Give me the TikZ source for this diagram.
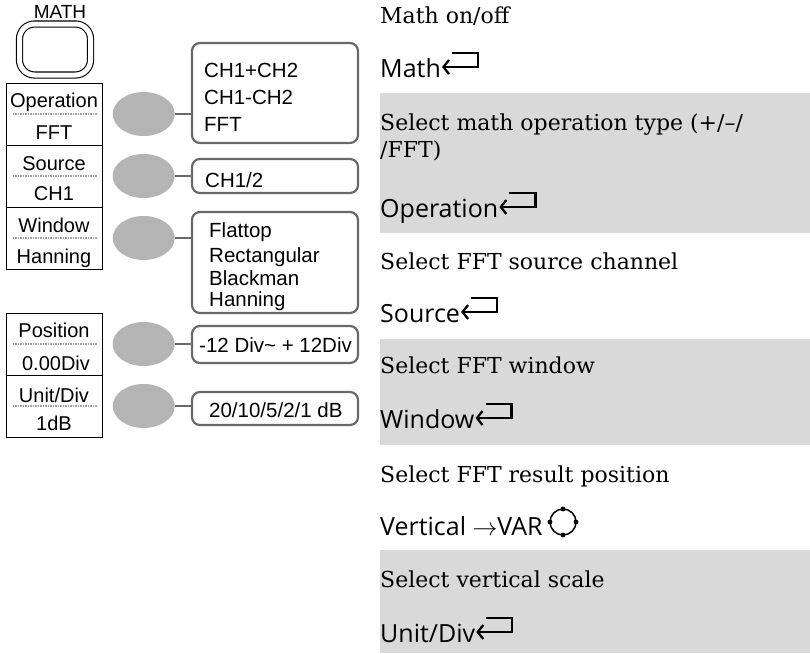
\documentclass[tikz,border=0pt]{standalone}
\usepackage{fontspec}
\setsansfont{Liberation Sans}
\newfontfamily\uifont{Open Sans}
\newfontfamily\descfont{DejaVu Serif}
\usepackage{xcolor}
\usepackage{tikz}
\usetikzlibrary{arrows.meta,positioning,shapes.geometric}
\definecolor{bandgray}{RGB}{217,217,217}
\definecolor{knobgray}{RGB}{180,180,180}
\definecolor{framegray}{RGB}{105,105,105}
\definecolor{dotgray}{RGB}{160,160,160}
\tikzset{
  mathkey/.style={draw=black, line width=1.1pt, double, double distance=5pt,
                  rounded corners=15pt, minimum width=71pt, minimum height=51pt, inner sep=0pt},
  softkey/.style={rectangle, draw=black, line width=1pt,
                  minimum width=96pt, minimum height=62pt, inner sep=0pt},
  keylabel/.style={font=\sffamily\fontsize{20}{23}\selectfont, anchor=base, inner sep=0pt},
  knob/.style={ellipse, fill=knobgray, minimum width=62pt, minimum height=44pt, inner sep=0pt},
  optbox/.style={rectangle, rounded corners=8pt, draw=framegray, line width=2.2pt,
                 fill=white, minimum width=166pt, inner sep=0pt},
  opttext/.style={font=\sffamily\fontsize{20.5}{23}\selectfont, anchor=base west, inner sep=0pt},
  link/.style={draw=framegray, line width=2.4pt},
  divider/.style={draw=dotgray, line width=1.6pt, dash pattern=on 1.5pt off 1pt},
  band/.style={fill=bandgray, draw=none},
  desc/.style={font=\descfont\fontsize{22}{26}\selectfont, anchor=base west, inner sep=0pt},
  act/.style={font=\uifont\fontsize{25}{29}\selectfont, anchor=base west, inner sep=0pt},
}
\newcommand{\retkey}{\tikz[baseline=0pt, x=1pt, y=1pt]{%
  \draw[line width=2.3pt, line join=miter,
        -{Straight Barb[length=5.5pt, width=14pt, line width=2.3pt]}]
    (10,24) -- (36,24) -- (36,10) -- (0,10);}}
\newcommand{\varknob}{\hspace{5pt}\tikz[baseline=0pt, x=1pt, y=1pt]{%
  \draw[line width=1.5pt] (0,13) circle (13pt);
  \foreach \a in {0,90,180,270} \fill[shift={(0,13)}] (\a:13) circle (2.4pt);}}

\begin{document}
\begin{tikzpicture}[x=1pt, y=-1pt]
  \useasboundingbox (0,0) rectangle (810,653);

  % description bands
  \fill[band] (380,93) rectangle (810,233);
  \fill[band] (380,339) rectangle (810,445);
  \fill[band] (380,550) rectangle (810,653);

  % front panel key
  \node[font=\sffamily\fontsize{19}{21}\selectfont, anchor=base] (mathlbl) at (60,18) {MATH};
  \node[mathkey] (mathbtn) at (55,49.5) {};

  % soft menu keys
  \node[softkey] (opkey) at (54,114) {};
  \node[softkey] (srckey) at (54,176) {};
  \node[softkey] (winkey) at (54,238) {};
  \node[softkey] (poskey) at (54,344) {};
  \node[softkey] (unitkey) at (54,406) {};

  \node[keylabel] (opname) at (54,107) {Operation};
  \node[keylabel] (opval) at (54,139) {FFT};
  \node[keylabel] (srcname) at (54,170) {Source};
  \node[keylabel] (srcval) at (54,200) {CH1};
  \node[keylabel] (winname) at (54,232) {Window};
  \node[keylabel] (winval) at (54,263) {Hanning};
  \node[keylabel] (posname) at (54,337) {Position};
  \node[keylabel] (posval) at (56,370) {0.00Div};
  \node[keylabel] (unitname) at (54,402) {Unit/Div};
  \node[keylabel] (unitval) at (54,430) {1dB};

  \foreach \k in {opkey,srckey,winkey,poskey,unitkey}
    \draw[divider] ([xshift=7pt]\k.west) -- ([xshift=-5pt]\k.east);

  % knobs
  \node[knob, right=10pt of opkey] (opknob) {};
  \node[knob, right=10pt of srckey] (srcknob) {};
  \node[knob, right=10pt of winkey] (winknob) {};
  \node[knob, right=10pt of poskey] (posknob) {};
  \node[knob, right=10pt of unitkey] (unitknob) {};

  % option lists
  \node[optbox, minimum height=100pt] (opmenu) at (275,93) {};
  \node[optbox, minimum height=34pt] (srcmenu) at (275,176) {};
  \node[optbox, minimum height=101pt] (winmenu) at (275,262.5) {};
  \node[optbox, minimum height=37pt] (posmenu) at (275,344.5) {};
  \node[optbox, minimum height=33pt] (unitmenu) at (275,408.5) {};

  \draw[link] (opknob.east) -- (opknob.east -| opmenu.west);
  \draw[link] (srcknob.east) -- (srcknob.east -| srcmenu.west);
  \draw[link] (winknob.east) -- (winknob.east -| winmenu.west);
  \draw[link] (posknob.east) -- (posknob.east -| posmenu.west);
  \draw[link] (unitknob.east) -- (unitknob.east -| unitmenu.west);

  \node[opttext] (opt1) at (204,77) {CH1+CH2};
  \node[opttext] (opt2) at (204,104) {CH1-CH2};
  \node[opttext] (opt3) at (204,131) {FFT};
  \node[opttext] (src1) at (205,187) {CH1/2};
  \node[opttext] (win1) at (209,237) {Flattop};
  \node[opttext] (win2) at (209,262) {Rectangular};
  \node[opttext] (win3) at (209,285) {Blackman};
  \node[opttext] (win4) at (209,306) {Hanning};
  \node[opttext] (pos1) at (199,352) {-12 Div\textasciitilde{} + 12Div};
  \node[opttext] (unit1) at (209,417) {20/10/5/2/1 dB};

  % descriptions
  \node[desc] (d1) at (380,23) {Math on/off};
  \node[act] (a1) at (380,77) {Math\retkey};
  \node[desc] (d2) at (380,130) {Select math operation type (+/–/};
  \node[desc] (d2b) at (380,157) {/FFT)};
  \node[act] (a2) at (380,217) {Operation\retkey};
  \node[desc] (d3) at (380,269) {Select FFT source channel};
  \node[act] (a3) at (380,322) {Source\retkey};
  \node[desc] (d4) at (380,373) {Select FFT window};
  \node[act] (a4) at (380,428) {Window\retkey};
  \node[desc] (d5) at (380,482) {Select FFT result position};
  \node[act] (a5) at (380,535) {Vertical $\rightarrow$VAR\varknob};
  \node[desc] (d6) at (380,587) {Select vertical scale};
  \node[act] (a6) at (380,642) {Unit/Div\retkey};
\end{tikzpicture}
\end{document}
